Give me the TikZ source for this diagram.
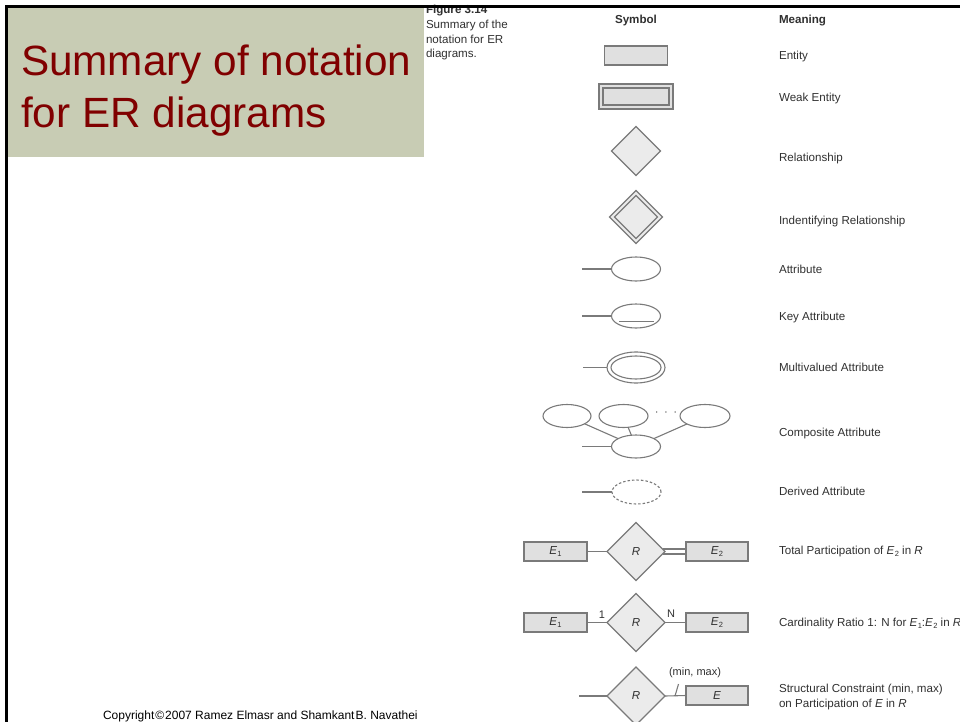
\documentclass[tikz,border=0pt]{standalone}
\usepackage{fontspec}
\setmainfont{Liberation Sans}
\usetikzlibrary{shapes.geometric,calc}

\definecolor{titlebg}{HTML}{C8CCB4}
\definecolor{titlered}{HTML}{800000}
\definecolor{symline}{HTML}{7A7A7A}
\definecolor{entfill}{HTML}{E0E0E0}
\definecolor{relfill}{HTML}{EBEBEB}
\definecolor{txt}{HTML}{303030}

% italic letter with a small subscript
\newcommand\ersub[2]{\textit{#1}\kern0.3pt\raisebox{-0.35ex}{\fontsize{7.5}{8}\selectfont #2}}

\begin{document}
\begin{tikzpicture}[x=1pt,y=-1pt,
  every node/.style={inner sep=0pt,outer sep=0pt},
  lbl/.style={font=\fontsize{11.6}{14}\selectfont,text=txt,anchor=base west},
  head/.style={font=\fontsize{11.6}{14}\selectfont\bfseries,text=txt,anchor=base},
  ent/.style={rectangle,draw=symline,fill=entfill,line width=1.1pt,
    minimum width=63pt,minimum height=19pt,font=\fontsize{11.6}{14}\selectfont,text=txt},
  rel/.style={diamond,draw=symline,fill=relfill,line width=1.1pt,
    minimum width=58pt,minimum height=58pt,font=\fontsize{11.6}{14}\selectfont\itshape,text=txt},
  attr/.style={ellipse,draw=symline,line width=1.1pt,minimum width=49pt,minimum height=24pt},
  conn/.style={draw=symline,line width=1.1pt}
]
\useasboundingbox (0,0) rectangle (960,722);
\clip (0,0) rectangle (960,722);

% title panel
\fill[titlebg] (8,8) rectangle (424,157);
\node[anchor=base west,font=\fontsize{42.3}{50}\selectfont,text=titlered] (t1) at (21,76) {Summary of notation};
\node[anchor=base west,font=\fontsize{42.3}{50}\selectfont,text=titlered] (t2) at (21,128) {for ER diagrams};

% figure caption
\node[anchor=base west,font=\fontsize{11.6}{14}\selectfont\bfseries,text=txt] (fig) at (426,13.5) {Figure 3.14};
\node[lbl] (cap1) at (426,29) {Summary of the};
\node[lbl] (cap2) at (426,43.5) {notation for ER};
\node[lbl] (cap3) at (426,58) {diagrams.};

% column headings
\node[head] (hsym) at (636,23.5) {Symbol};
\node[head,anchor=base west] (hmean) at (779,23.5) {Meaning};

% entity
\node[ent] (entity) at (636,55.5) {};
\node[lbl] at (779,59.5) {Entity};

% weak entity
\node[ent,minimum width=74pt,minimum height=25pt] (weak) at (636,96.5) {};
\node[ent,minimum width=66pt,minimum height=17pt] (weakin) at (weak.center) {};
\node[lbl] at (779,102) {Weak Entity};

% relationship
\node[rel,minimum width=49pt,minimum height=49pt] (relsym) at (636,151) {};
\node[lbl] at (779,161) {Relationship};

% identifying relationship
\node[rel,minimum width=53pt,minimum height=53pt] (idrel) at (636,217) {};
\node[rel,minimum width=43pt,minimum height=43pt] (idrelin) at (idrel.center) {};
\node[lbl] at (779,224) {Indentifying Relationship};

% attribute
\node[attr] (att) at (636,269) {};
\coordinate (attl) at (582,269);
\draw[conn] (attl) -- (att.west);
\node[lbl] at (779,273) {Attribute};

% key attribute
\node[attr] (key) at (636,316) {};
\coordinate (keyl) at (582,316);
\draw[conn] (keyl) -- (key.west);
\draw[conn] ($(key.center)+(-17,5.5)$) -- ($(key.center)+(18,5.5)$);
\node[lbl] at (779,320) {Key Attribute};

% multivalued attribute
\node[attr,minimum width=58pt,minimum height=31pt] (multi) at (636,367.5) {};
\node[attr,minimum width=50pt,minimum height=23pt] (multiin) at (multi.center) {};
\coordinate (multil) at (583,367.5);
\draw[conn] (multil) -- (multi.west);
\node[lbl] at (779,371) {Multivalued Attribute};

% composite attribute
\node[attr,minimum width=48pt,minimum height=23pt] (comp1) at (567,416) {};
\node[attr,minimum width=49pt,minimum height=23pt] (comp2) at (623.5,416) {};
\node[attr,minimum width=50pt,minimum height=23pt] (comp3) at (705,416) {};
\node[attr,minimum width=49pt,minimum height=23pt] (comp) at (636,446.5) {};
\node[font=\fontsize{12}{12}\selectfont,text=txt] (dots) at (666,412.5) {$\cdot\;\cdot\;\cdot$};
\draw[conn] (comp1) -- (comp);
\draw[conn] (comp2) -- (comp);
\draw[conn] (comp3) -- (comp);
\coordinate (compl) at (582,446.5);
\draw[conn] (compl) -- (comp.west);
\node[lbl] at (779,436) {Composite Attribute};

% derived attribute
\node[attr,dashed,dash pattern=on 2.5pt off 2pt] (der) at (636.5,492) {};
\coordinate (derl) at (582,492);
\draw[conn] (derl) -- (der.west);
\node[lbl] at (779,495) {Derived Attribute};

% total participation
\node[ent] (tpE1) at (555.5,551.5) {\ersub{E}{1}};
\node[rel] (tpR) at (636,551.5) {R};
\node[ent,minimum width=62pt] (tpE2) at (717,551.5) {\ersub{E}{2}};
\draw[conn] (tpE1) -- (tpR);
\draw[conn] ($(tpR.east)+(-2.5,-2.5)$) -- ($(tpE2.west)+(0,-2.5)$);
\draw[conn] ($(tpR.east)+(-2.5,2.5)$) -- ($(tpE2.west)+(0,2.5)$);
\node[lbl] at (779,554) {Total Participation of \ersub{E}{2} in \textit{R}};

% cardinality ratio
\node[ent] (crE1) at (555.5,622.5) {\ersub{E}{1}};
\node[rel] (crR) at (636,622.5) {R};
\node[ent,minimum width=62pt] (crE2) at (717,622.5) {\ersub{E}{2}};
\draw[conn] (crE1) -- (crR);
\draw[conn] (crR) -- (crE2);
\node[font=\fontsize{11}{12}\selectfont,text=txt] (one) at (602,615) {1};
\node[font=\fontsize{11}{12}\selectfont,text=txt] (many) at (671,614) {N};
\node[lbl] at (779,626) {Cardinality Ratio 1: N for \ersub{E}{1}:\ersub{E}{2} in \textit{R}};

% structural constraint
\node[rel] (scR) at (636,696) {R};
\node[ent,minimum width=62pt] (scE) at (717,695.5) {\textit{E}};
\coordinate (scl) at (579,696);
\draw[conn] (scl) -- (scR.west);
\draw[conn] (scR.east) -- (scE.west);
\draw[conn] (678.5,684) -- (675,696);
\node[font=\fontsize{11}{12}\selectfont,text=txt] (minmax) at (695,673) {(min, max)};
\node[lbl] at (779,692) {Structural Constraint (min, max)};
\node[lbl] at (779,707) {on Participation of \textit{E} in \textit{R}};

% footer
\node[anchor=base west,font=\fontsize{12}{14}\selectfont,text=black] (copy) at (103,719)
  {Copyright\kern1pt©\kern1pt2007 Ramez Elmasr and Shamkant\kern1pt B. Navathei};

% frame lines
\fill[black] (5,5) rectangle (960,8);
\fill[black] (5,5) rectangle (8,722);
\end{tikzpicture}
\end{document}
